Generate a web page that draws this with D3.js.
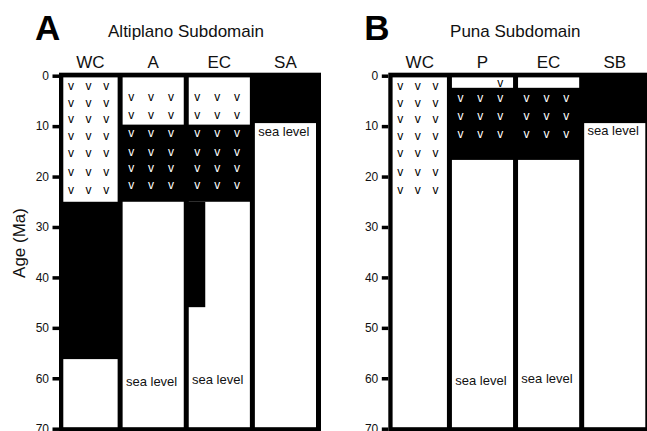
<!DOCTYPE html>
<html>
<head>
<meta charset="utf-8">
<script src="https://cdn.jsdelivr.net/npm/d3@7"></script>
<style>
  body { margin: 0; background: #fff; }
  svg { display: block; }
</style>
</head>
<body>
<div id="chart"></div>
<script>
// ages are in Ma
var ageTicks = [0, 10, 20, 30, 40, 50, 60, 70];

// A - Altiplano subdomain
var altiplanoCols = ["WC", "A", "EC", "SA"];
var altiplanoWhite = [
  { col: "WC", from: 0, to: 25 },
  { col: "WC", from: 56.2, to: 70 },
  { col: "A", from: 0, to: 9.7 },
  { col: "A", from: 25, to: 70 },
  { col: "EC", from: 0, to: 9.7 },
  { col: "EC", from: 25, to: 70 },
  { col: "SA", from: 9.4, to: 70 }
];
var altiplanoBlack = [
  { col: "EC", from: 25, to: 45.9, share: 0.27 }
];
var altiplanoVolc = [
  { col: "WC", ages: [2.3, 5.5, 8.7, 12.1, 15.5, 19.2, 22.8], slots: [0, 1, 2] },
  { col: "A", ages: [4.4, 7.9, 11.6, 15.2, 18.4, 21.8], slots: [0, 1, 2] },
  { col: "EC", ages: [4.4, 7.9, 11.6, 15.2, 18.4, 21.8], slots: [0, 1, 2] }
];
var altiplanoSea = [
  { col: "A", age: 61.5 },
  { col: "EC", age: 61.2 },
  { col: "SA", age: 11.9 }
];

// B - Puna subdomain
var punaCols = ["WC", "P", "EC", "SB"];
var punaWhite = [
  { col: "WC", from: 0, to: 70 },
  { col: "P", from: 0, to: 2.4 },
  { col: "P", from: 16.7, to: 70 },
  { col: "EC", from: 0, to: 2.4 },
  { col: "EC", from: 16.7, to: 70 },
  { col: "SB", from: 9.4, to: 70 }
];
var punaBlack = [];
var punaVolc = [
  { col: "WC", ages: [2.3, 5.5, 8.7, 12.1, 15.5, 19.2, 22.8], slots: [0, 1, 2] },
  { col: "P", ages: [1.6], slots: [2] },
  { col: "P", ages: [4.5, 8.1, 11.8], slots: [0, 1, 2] },
  { col: "EC", ages: [4.5, 8.1, 11.8], slots: [0, 1, 2] }
];
var punaSea = [
  { col: "P", age: 61.3 },
  { col: "EC", age: 61.0 },
  { col: "SB", age: 11.8 }
];

var FONT = '"Liberation Sans", Arial, Helvetica, sans-serif';
var w = 647, h = 431;

var svg = d3.select("#chart").append("svg")
    .attr("width", w)
    .attr("height", h)
    .attr("font-family", FONT);

var y = d3.scaleLinear().domain([0, 70]).range([75.7, 428.7]);

function drawPanel(p) {
  var g = svg.append("g").attr("transform", "translate(" + p.left + ",0)");

  var x = d3.scaleBand()
      .domain(p.cols)
      .range([-2.5, 257])
      .paddingInner(0.0756);

  var inner = 4.3;
  var colLeft = function (c) { return Math.max(x(c), inner); };
  var colRight = function (c) { return x(c) + x.bandwidth(); };
  var frameRight = x.range()[1] + 5;
  var top = y(0) + 1.7, bottom = y(70) - 1.5;

  // black background frame
  g.append("rect")
      .attr("x", 0)
      .attr("y", y(0) - 3)
      .attr("width", frameRight)
      .attr("height", y(70) - y(0) + 6)
      .attr("fill", "#000");

  // white intervals
  g.selectAll("rect.white")
      .data(p.white)
      .enter().append("rect")
      .attr("class", "white")
      .attr("x", function (d) { return colLeft(d.col); })
      .attr("width", function (d) { return colRight(d.col) - colLeft(d.col); })
      .attr("y", function (d) { return Math.max(y(d.from), top); })
      .attr("height", function (d) { return Math.min(y(d.to), bottom) - Math.max(y(d.from), top); })
      .attr("fill", "#fff");

  // black strip inside a column, runs into the gap on its left
  g.selectAll("rect.black")
      .data(p.black)
      .enter().append("rect")
      .attr("class", "black")
      .attr("x", function (d) { return colLeft(d.col) - 2; })
      .attr("width", function (d) { return (colRight(d.col) - colLeft(d.col)) * d.share + 2; })
      .attr("y", function (d) { return y(d.from); })
      .attr("height", function (d) { return y(d.to) - y(d.from); })
      .attr("fill", "#000");

  function inWhite(col, age) {
    return p.white.some(function (d) { return d.col === col && age >= d.from && age <= d.to; });
  }

  // volcanic "v" marks
  var marks = [];
  p.volc.forEach(function (r) {
    r.ages.forEach(function (a) {
      r.slots.forEach(function (s) { marks.push({ col: r.col, age: a, slot: s }); });
    });
  });

  g.selectAll("text.v")
      .data(marks)
      .enter().append("text")
      .attr("class", "v")
      .attr("x", function (d) {
        var l = colLeft(d.col), wd = colRight(d.col) - l;
        return l + wd * (0.14 + 0.325 * d.slot);
      })
      .attr("y", function (d) { return y(d.age) + 3.2; })
      .attr("text-anchor", "middle")
      .attr("font-size", 12)
      .attr("fill", function (d) { return inWhite(d.col, d.age) ? "#000" : "#fff"; })
      .text("v");

  g.selectAll("text.sea")
      .data(p.sea)
      .enter().append("text")
      .attr("class", "sea")
      .attr("x", function (d) { return colLeft(d.col) + 3.3; })
      .attr("y", function (d) { return y(d.age); })
      .attr("font-size", 13)
      .attr("fill", "#111")
      .text("sea level");

  // column headers
  g.selectAll("text.head")
      .data(p.cols)
      .enter().append("text")
      .attr("class", "head")
      .attr("x", function (c) { return (colLeft(c) + colRight(c)) / 2; })
      .attr("y", 67.5)
      .attr("text-anchor", "middle")
      .attr("font-size", 17)
      .attr("fill", "#111")
      .text(function (c) { return c; });

  g.append("text")
      .attr("x", frameRight / 2 - 4)
      .attr("y", 37.3)
      .attr("text-anchor", "middle")
      .attr("font-size", 17)
      .attr("fill", "#111")
      .text(p.title);

  g.append("text")
      .attr("x", -24)
      .attr("y", 40)
      .attr("font-size", 35)
      .attr("font-weight", "bold")
      .attr("fill", "#000")
      .text(p.letter);

  // age axis, frame edge acts as the spine
  var yAxis = d3.axisLeft(y)
      .tickValues(ageTicks)
      .tickSize(6.5)
      .tickPadding(3.5);

  var ax = g.append("g").call(yAxis);
  ax.attr("font-family", FONT).attr("font-size", 12);
  ax.select(".domain").remove();
  ax.selectAll(".tick line").attr("stroke", "#000").attr("stroke-width", 3.5);
  ax.selectAll(".tick text").attr("fill", "#111");
}

drawPanel({ left: 59, letter: "A", title: "Altiplano Subdomain", cols: altiplanoCols,
  white: altiplanoWhite, black: altiplanoBlack, volc: altiplanoVolc, sea: altiplanoSea });
drawPanel({ left: 388.3, letter: "B", title: "Puna Subdomain", cols: punaCols,
  white: punaWhite, black: punaBlack, volc: punaVolc, sea: punaSea });

svg.append("text")
    .attr("transform", "translate(24.7,243) rotate(-90)")
    .attr("text-anchor", "middle")
    .attr("font-size", 17)
    .attr("fill", "#111")
    .text("Age (Ma)");
</script>
</body>
</html>
